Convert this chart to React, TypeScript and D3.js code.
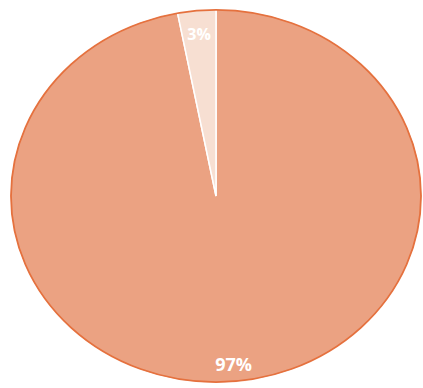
import React from "react";
import * as d3 from "d3";

const labels = ["97%", "3%"];
const values = [97, 3];
const colors = ["#eba282", "#f7dfd2"];

export default function App() {
  const W = 423, H = 388;
  const cx = 216, cy = 196, rx = 206, ry = 187;
  const pie = d3.pie<number>().sort(null).value((d) => d)(values);
  const arc = d3.arc<d3.PieArcDatum<number>>().innerRadius(0).outerRadius(rx);
  const sy = ry / rx;
  return (
    <svg width={W} height={H} style={{ position: "absolute", left: 0, top: 0 }}>
      <g transform={`translate(${cx},${cy}) scale(1,${sy})`}>
        {pie.map((p, i) => (
          <path key={i} d={arc(p) || ""} fill={colors[i]} stroke="#fff" strokeWidth={1.5} />
        ))}
        <ellipse cx={0} cy={0} rx={rx - 1} ry={rx - 1} fill="none" stroke="#e5713e" strokeWidth={1.8} />
      </g>
      {pie.map((p, i) => {
        const a = (p.startAngle + p.endAngle) / 2;
        const rr = i === 0 ? 0.905 : 0.87;
        const x = cx + Math.sin(a) * rx * rr;
        const y = cy - Math.cos(a) * ry * rr;
        return (
          <text key={i} x={x} y={y} textAnchor="middle" dominantBaseline="central"
            fill="#fff" fontFamily="Open Sans, sans-serif" fontWeight="bold" fontSize={i === 0 ? 18 : 16}>
            {labels[i]}
          </text>
        );
      })}
    </svg>
  );
}
